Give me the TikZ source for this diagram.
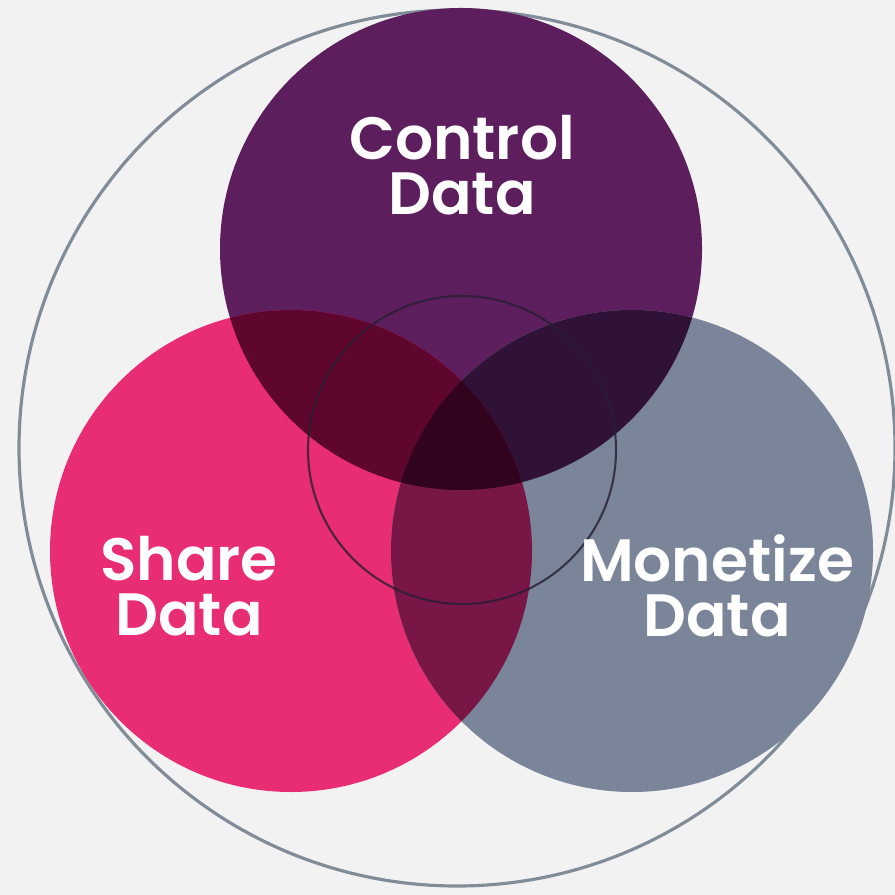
\documentclass[tikz,border=0pt]{standalone}
\usepackage{fontspec}
\setmainfont{Poppins}[BoldFont={Poppins SemiBold}]
\definecolor{bg}{RGB}{242,242,242}
\definecolor{cpurple}{RGB}{92,30,92}
\definecolor{cpink}{RGB}{232,45,117}
\definecolor{cgray}{RGB}{122,133,153}
\definecolor{ctl}{RGB}{94,6,46}
\definecolor{ctr}{RGB}{48,18,55}
\definecolor{clr}{RGB}{120,22,70}
\definecolor{cctr}{RGB}{50,3,30}
\definecolor{ring}{RGB}{128,140,152}
\definecolor{inner}{RGB}{40,30,50}
\tikzset{
  lbl/.style={text=white, font=\bfseries\fontsize{17}{15.6}\selectfont, align=center, inner sep=0pt},
}
\begin{document}
\begin{tikzpicture}[x=0.01cm, y=-0.01cm]
\fill[bg] (0,0) rectangle (895,895);
\useasboundingbox (0,0) rectangle (895,895);
\coordinate (T) at (461,249);
\coordinate (L) at (291,551);
\coordinate (R) at (632,551);
\coordinate (O) at (457,448);
\coordinate (I) at (462,450);
\draw[ring, line width=0.9pt] (O) circle (438);
\fill[cpurple] (T) circle (241);
\fill[cpink] (L) circle (241);
\fill[cgray] (R) circle (241);
\begin{scope}
  \clip (T) circle (241);
  \fill[ctl] (L) circle (241);
  \fill[ctr] (R) circle (241);
\end{scope}
\begin{scope}
  \clip (L) circle (241);
  \fill[clr] (R) circle (241);
\end{scope}
\begin{scope}
  \clip (T) circle (241);
  \clip (L) circle (241);
  \fill[cctr] (R) circle (241);
\end{scope}
\draw[inner, opacity=0.8, line width=0.6pt] (I) circle (154);
\node[lbl] (ctrl) at (462,165) {Control\\Data};
\node[lbl] (share) at (189,586) {Share\\Data};
\node[lbl] (money) at (717,586) {Monetize\\Data};
\end{tikzpicture}
\end{document}
